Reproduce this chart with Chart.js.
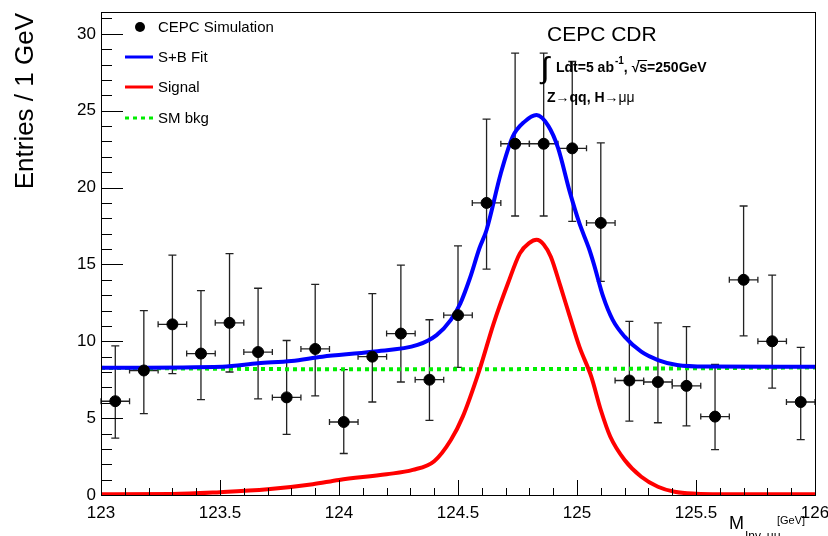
<!DOCTYPE html>
<html>
<head>
<meta charset="utf-8">
<title>CEPC H to mumu</title>
<script src="https://cdn.jsdelivr.net/npm/chart.js@4.4.1/dist/chart.umd.min.js"></script>
<style>
    body { margin: 0; background: #fff; }
    canvas { display: block; }
</style>
</head>
<body>
<canvas id="massChart" width="828" height="536"></canvas>
<script>
// ==========================================
// DATA
// ==========================================
const xTicks = [123, 123.5, 124, 124.5, 125, 125.5, 126];
const yTicks = [0, 5, 10, 15, 20, 25, 30];

// simulated events, bin centres (GeV) and entries
const binCentres = [123.06, 123.18, 123.30, 123.42, 123.54, 123.66, 123.78, 123.90, 124.02, 124.14,
                    124.26, 124.38, 124.50, 124.62, 124.74, 124.86, 124.98, 125.10, 125.22, 125.34,
                    125.46, 125.58, 125.70, 125.82, 125.94];
const entries = [6.1, 8.1, 11.1, 9.2, 11.2, 9.3, 6.35, 9.5, 4.75, 9.0,
                 10.5, 7.5, 11.7, 19.0, 22.85, 22.85, 22.55, 17.7, 7.45, 7.35,
                 7.1, 5.1, 14.0, 10.0, 6.05];
const errHigh = [9.7, 12.0, 15.6, 13.3, 15.7, 13.45, 10.05, 13.7, 8.15, 13.1,
                 14.95, 11.4, 16.2, 24.45, 28.75, 28.75, 28.2, 22.9, 11.3, 11.2,
                 10.95, 8.5, 18.8, 14.3, 9.6];
const errLow = [3.7, 5.3, 7.9, 6.2, 8.0, 6.25, 3.95, 6.45, 2.7, 6.05,
                7.35, 4.85, 8.3, 14.7, 18.15, 18.15, 17.8, 13.9, 4.8, 4.7,
                4.5, 2.95, 10.35, 6.95, 3.6];
const binHalfWidth = 0.06;

// S+B fit curve
const fitX = [123.0, 123.51, 123.66, 123.8, 123.93, 124.14, 124.33, 124.41, 124.47, 124.51,
              124.55, 124.59, 124.62, 124.68, 124.73, 124.78, 124.83, 124.88, 124.92, 124.97,
              125.01, 125.05, 125.07, 125.11, 125.15, 125.2, 125.27, 125.34, 125.42, 125.55, 126.0];
const fitY = [8.28, 8.35, 8.57, 8.72, 9.0, 9.32, 9.76, 10.4, 11.39, 12.47,
              14.1, 16.05, 17.24, 20.93, 23.31, 24.29, 24.72, 24.0, 22.6, 19.7,
              17.68, 16.05, 15.07, 12.9, 11.39, 10.3, 9.32, 8.78, 8.46, 8.36, 8.35];

// signal curve
const sigX = [123.0, 123.3, 123.5, 123.7, 123.89, 124.0, 124.2, 124.31, 124.40, 124.47,
              124.52, 124.59, 124.65, 124.71, 124.76, 124.80, 124.83, 124.86, 124.89, 124.93,
              124.97, 125.01, 125.06, 125.10, 125.14, 125.20, 125.27, 125.34, 125.41, 125.5,
              125.6, 126.0];
const sigY = [0.05, 0.06, 0.18, 0.37, 0.70, 0.98, 1.35, 1.63, 2.2, 3.58,
              5.1, 8.13, 11.17, 13.77, 15.72, 16.4, 16.6, 16.3, 15.5, 13.6,
              11.6, 9.65, 7.7, 5.53, 3.79, 2.28, 1.19, 0.54, 0.21, 0.08,
              0.05, 0.05];

// SM background
const bkgX = [123.0, 124.0, 125.0, 126.0];
const bkgY = [8.27, 8.18, 8.2, 8.3];

const FONT = "'Liberation Sans', Arial, sans-serif";

const toPoints = (xs, ys) => xs.map((x, i) => ({ x: x, y: ys[i] }));

// ==========================================
// FRAME, TICKS, ERROR BARS AND TEXT
// ==========================================
const rootStylePlugin = {
    id: 'rootStyle',
    beforeDatasetsDraw(chart) {
        const ctx = chart.ctx;
        const xs = chart.scales.x, ys = chart.scales.y;
        ctx.save();
        ctx.strokeStyle = '#222';
        ctx.lineWidth = 1.3;
        binCentres.forEach((c, i) => {
            const px = xs.getPixelForValue(c);
            const py = ys.getPixelForValue(entries[i]);
            const top = ys.getPixelForValue(errHigh[i]);
            const bot = ys.getPixelForValue(errLow[i]);
            const l = Math.max(xs.getPixelForValue(c - binHalfWidth), chart.chartArea.left);
            const r = xs.getPixelForValue(c + binHalfWidth);
            ctx.beginPath();
            ctx.moveTo(px, top); ctx.lineTo(px, bot);
            ctx.moveTo(px - 4, top); ctx.lineTo(px + 4, top);
            ctx.moveTo(px - 4, bot); ctx.lineTo(px + 4, bot);
            ctx.moveTo(l, py); ctx.lineTo(r, py);
            ctx.moveTo(l, py - 3); ctx.lineTo(l, py + 3);
            ctx.moveTo(r, py - 3); ctx.lineTo(r, py + 3);
            ctx.stroke();
        });
        ctx.restore();
    },
    afterDraw(chart) {
        const ctx = chart.ctx;
        const area = chart.chartArea;
        const xs = chart.scales.x, ys = chart.scales.y;
        ctx.save();

        // frame box
        ctx.strokeStyle = '#000';
        ctx.lineWidth = 1;
        ctx.strokeRect(area.left + 0.5, area.top + 0.5, area.right - area.left, area.bottom - area.top);

        // ticks drawn inside the frame, ROOT style
        ctx.beginPath();
        for (let v = 123; v <= 126.001; v += 0.1) {
            const px = Math.round(xs.getPixelForValue(v)) + 0.5;
            const major = Math.abs(v * 2 - Math.round(v * 2)) < 0.001;
            ctx.moveTo(px, area.bottom);
            ctx.lineTo(px, area.bottom - (major ? 15 : 7));
        }
        for (let v = 0; v <= 31; v += 1) {
            const py = Math.round(ys.getPixelForValue(v)) + 0.5;
            ctx.moveTo(area.left, py);
            ctx.lineTo(area.left + (v % 5 === 0 ? 22 : 11), py);
        }
        ctx.stroke();

        // axis titles
        ctx.fillStyle = '#000';
        ctx.save();
        ctx.translate(26, 13);
        ctx.rotate(-Math.PI / 2);
        ctx.font = `26px ${FONT}`;
        ctx.textAlign = 'right';
        ctx.textBaseline = 'middle';
        ctx.fillText('Entries / 1 GeV', 0, 0);
        ctx.restore();

        ctx.textAlign = 'left';
        ctx.textBaseline = 'alphabetic';
        ctx.font = `18px ${FONT}`;
        ctx.fillText('M', 729, 529);
        ctx.font = `12px ${FONT}`;
        ctx.fillText('Inv, \u03bc\u03bc', 745, 540);
        ctx.font = `11px ${FONT}`;
        ctx.fillText('[GeV]', 777, 524);

        // legend
        ctx.font = `15px ${FONT}`;
        ctx.textBaseline = 'middle';
        ctx.beginPath();
        ctx.arc(140, 27, 5, 0, Math.PI * 2);
        ctx.fill();
        ctx.fillText('CEPC Simulation', 158, 28);
        const legendLines = [
            { y: 57, color: '#0000ff', dash: [], text: 'S+B Fit' },
            { y: 87, color: '#ff0000', dash: [], text: 'Signal' },
            { y: 118, color: '#00ee00', dash: [4, 4], text: 'SM bkg' }
        ];
        legendLines.forEach(item => {
            ctx.strokeStyle = item.color;
            ctx.lineWidth = 3;
            ctx.setLineDash(item.dash);
            ctx.beginPath();
            ctx.moveTo(125, item.y);
            ctx.lineTo(153, item.y);
            ctx.stroke();
            ctx.setLineDash([]);
            ctx.fillStyle = '#000';
            ctx.fillText(item.text, 158, item.y + 1);
        });

        // annotation text, top right
        ctx.textBaseline = 'alphabetic';
        ctx.font = `21px ${FONT}`;
        ctx.fillText('CEPC CDR', 547, 41);

        ctx.font = `30px ${FONT}`;
        ctx.fillText('\u222b', 541, 78);
        ctx.font = `bold 14px ${FONT}`;
        let x = 556;
        const part1 = 'Ldt=5 ab';
        ctx.fillText(part1, x, 72);
        x += ctx.measureText(part1).width;
        ctx.font = `bold 10px ${FONT}`;
        ctx.fillText('-1', x + 1, 64);
        x += ctx.measureText('-1').width + 1;
        ctx.font = `bold 14px ${FONT}`;
        ctx.fillText(', \u221as=250GeV', x, 72);
        const sqrtStart = x + ctx.measureText(', ').width;
        const sqrtW = ctx.measureText('\u221as').width;
        ctx.strokeStyle = '#000';
        ctx.lineWidth = 1;
        ctx.beginPath();
        ctx.moveTo(sqrtStart + 6, 60.5);
        ctx.lineTo(sqrtStart + sqrtW, 60.5);
        ctx.stroke();

        x = 547;
        ctx.fillText('Z', x, 102);
        x += ctx.measureText('Z').width;
        ctx.font = `14px ${FONT}`;
        ctx.fillText('\u2192', x, 102);
        x += ctx.measureText('\u2192').width;
        ctx.font = `bold 14px ${FONT}`;
        ctx.fillText('qq, H', x, 102);
        x += ctx.measureText('qq, H').width;
        ctx.font = `14px ${FONT}`;
        ctx.fillText('\u2192\u03bc\u03bc', x, 102);

        ctx.restore();
    }
};

// keep the plot frame fixed: no extra room for edge tick labels
function fixScaleBox(scale, size) {
    if (scale.isHorizontal()) scale.height = size;
    else scale.width = size;
    scale.paddingLeft = 0;
    scale.paddingRight = 0;
    scale.paddingTop = 0;
    scale.paddingBottom = 0;
}

// ==========================================
// CHART SETUP
// ==========================================
function buildMassChart() {
    const ctx = document.getElementById('massChart').getContext('2d');

    return new Chart(ctx, {
        type: 'scatter',
        data: {
            datasets: [
                {
                    label: 'CEPC Simulation',
                    data: toPoints(binCentres, entries),
                    backgroundColor: '#000',
                    borderColor: '#000',
                    pointRadius: 5.5,
                    showLine: false
                },
                {
                    label: 'S+B Fit',
                    data: toPoints(fitX, fitY),
                    showLine: true,
                    borderColor: '#0000ff',
                    borderWidth: 4,
                    pointRadius: 0,
                    cubicInterpolationMode: 'monotone'
                },
                {
                    label: 'Signal',
                    data: toPoints(sigX, sigY),
                    showLine: true,
                    borderColor: '#ff0000',
                    borderWidth: 4,
                    pointRadius: 0,
                    cubicInterpolationMode: 'monotone'
                },
                {
                    label: 'SM bkg',
                    data: toPoints(bkgX, bkgY),
                    showLine: true,
                    borderColor: '#00ee00',
                    borderWidth: 4,
                    borderDash: [4, 4],
                    pointRadius: 0,
                    cubicInterpolationMode: 'monotone'
                }
            ]
        },
        options: {
            responsive: false,
            animation: false,
            layout: { padding: { left: 0, top: 12, right: 13, bottom: 0 } },
            plugins: {
                legend: { display: false },
                tooltip: { enabled: false }
            },
            scales: {
                x: {
                    type: 'linear',
                    min: 123,
                    max: 126,
                    afterFit: s => fixScaleBox(s, 41),
                    afterBuildTicks: s => { s.ticks = xTicks.map(v => ({ value: v })); },
                    grid: { display: false, drawTicks: false },
                    border: { display: false },
                    ticks: {
                        color: '#000',
                        padding: 8,
                        maxRotation: 0,
                        autoSkip: false,
                        font: { family: FONT, size: 17 },
                        callback: v => String(v)
                    }
                },
                y: {
                    type: 'linear',
                    min: 0,
                    max: 31.42,
                    afterFit: s => fixScaleBox(s, 101),
                    afterBuildTicks: s => { s.ticks = yTicks.map(v => ({ value: v })); },
                    grid: { display: false, drawTicks: false },
                    border: { display: false },
                    ticks: {
                        color: '#000',
                        padding: 5,
                        autoSkip: false,
                        font: { family: FONT, size: 17 },
                        callback: v => String(v)
                    }
                }
            }
        },
        plugins: [rootStylePlugin]
    });
}

buildMassChart();
</script>
</body>
</html>
